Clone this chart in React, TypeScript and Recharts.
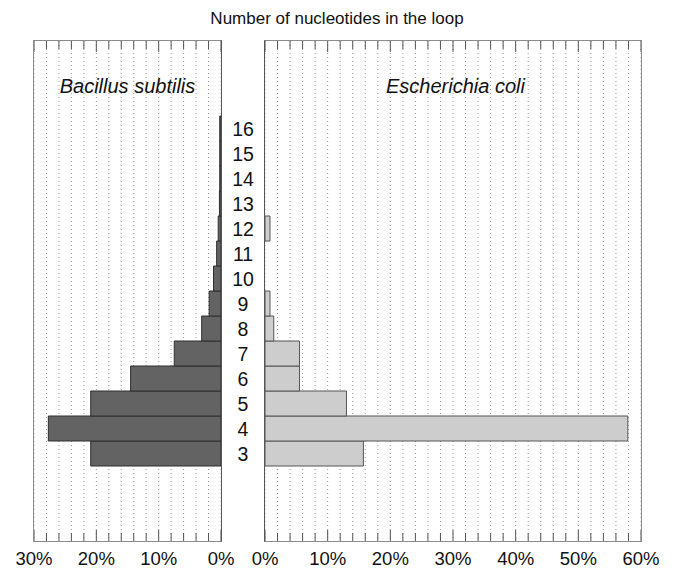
import React from 'react';
import { BarChart, Bar, XAxis, YAxis, CartesianGrid } from 'recharts';

// loop sizes on the category axis (outer ones are empty padding rows)
const LOOP_SIZES = [0, 1, 2, 3, 4, 5, 6, 7, 8, 9, 10, 11, 12, 13, 14, 15, 16, 17, 18, 19];
const LABELED_SIZES = [3, 4, 5, 6, 7, 8, 9, 10, 11, 12, 13, 14, 15, 16];

// percent of loops with a given size
const BACILLUS = [null, null, null, 20.9, 27.7, 20.9, 14.5, 7.5, 3.1, 1.9, 1.2, 0.7, 0.45, 0.25, 0.2, 0.2, 0.2, null, null, null];
const ECOLI = [null, null, null, 15.7, 57.9, 13, 5.5, 5.5, 1.4, 0.8, 0, 0, 0.8, 0, 0, 0, 0, null, null, null];

const LEFT_TICKS = [0, 2, 4, 6, 8, 10, 12, 14, 16, 18, 20, 22, 24, 26, 28, 30];
const RIGHT_TICKS = [0, 2, 4, 6, 8, 10, 12, 14, 16, 18, 20, 22, 24, 26, 28, 30, 32, 34, 36, 38, 40, 42, 44, 46, 48, 50, 52, 54, 56, 58, 60];

const FONT = '"Liberation Sans", Arial, Helvetica, sans-serif';
const W = 674;
const H = 568;
const TOP = 41;
const AXIS_H = 27;
const BOTTOM = H - AXIS_H;

const bacData = LOOP_SIZES.map((n, i) => ({ n, v: BACILLUS[i] }));
const ecoData = LOOP_SIZES.map((n, i) => ({ n, v: ECOLI[i] }));

// tick marks drawn inward on top and bottom edges, label only on 10% steps
const XTick = (props: any) => {
  const { x, payload } = props;
  const v = payload.value;
  const major = v % 10 === 0;
  const len = major ? 11 : 8;
  return (
    <g>
      <line x1={x} x2={x} y1={BOTTOM} y2={BOTTOM - len} stroke="#555" strokeWidth={1} />
      <line x1={x} x2={x} y1={TOP} y2={TOP + len} stroke="#555" strokeWidth={1} />
      {major && (
        <text x={x} y={BOTTOM + 24} textAnchor="middle" fontSize={18.5} fill="#111" fontFamily={FONT}>
          {v}%
        </text>
      )}
    </g>
  );
};

const SizeTick = (props: any) => {
  const { y, payload } = props;
  if (!LABELED_SIZES.includes(payload.value)) return null;
  return (
    <text x={22} y={y} dy={7} textAnchor="middle" fontSize={19.5} fill="#111" fontFamily={FONT}>
      {payload.value}
    </text>
  );
};

const Panel = ({ data, width, left, margin, max, ticks, reversed, fill, stroke, withLabels }: any) => (
  <div style={{ position: 'absolute', left, top: 0 }}>
    <BarChart
      width={width}
      height={H}
      data={data}
      layout="vertical"
      margin={margin}
      barCategoryGap={0}
    >
      <CartesianGrid horizontal={false} stroke="#9a9a9a" strokeDasharray="1 3" />
      <XAxis
        type="number"
        domain={[0, max]}
        ticks={ticks}
        interval={0}
        reversed={reversed}
        height={AXIS_H}
        tickSize={0}
        tickLine={false}
        tick={(p: any) => <XTick {...p} />}
        axisLine={false}
      />
      <YAxis
        type="category"
        dataKey="n"
        reversed
        interval={0}
        width={withLabels ? 44 : 0}
        tickSize={0}
        tickLine={false}
        tick={withLabels ? (p: any) => <SizeTick {...p} /> : false}
        axisLine={false}
      />
      <Bar dataKey="v" fill={fill} stroke={stroke} strokeWidth={1} isAnimationActive={false} />
    </BarChart>
  </div>
);

// panel frames: light outer edges, darker 0% edge
const frame = (left: number, width: number, zeroSide: 'left' | 'right'): React.CSSProperties => ({
  position: 'absolute',
  left,
  top: TOP - 1,
  width,
  height: BOTTOM - TOP + 2,
  boxSizing: 'border-box',
  border: '1px solid #8c8c8c',
  [zeroSide === 'left' ? 'borderLeft' : 'borderRight']: '1px solid #555',
  pointerEvents: 'none',
});

export default function App() {
  return (
    <div style={{ position: 'absolute', left: 0, top: 0, width: W, height: H, background: '#fff', fontFamily: FONT }}>
      <div style={{ position: 'absolute', left: 0, width: W, top: 9, textAlign: 'center', fontSize: 17, color: '#111' }}>
        Number of nucleotides in the loop
      </div>
      <Panel
        data={bacData}
        width={240}
        left={0}
        margin={{ top: TOP, right: 19, bottom: 0, left: 34 }}
        max={30}
        ticks={LEFT_TICKS}
        reversed
        fill="#636363"
        stroke="#2e2e2e"
        withLabels={false}
      />
      <Panel
        data={ecoData}
        width={453}
        left={221}
        margin={{ top: TOP, right: 33, bottom: 0, left: 0 }}
        max={60}
        ticks={RIGHT_TICKS}
        reversed={false}
        fill="#cdcdcd"
        stroke="#555"
        withLabels
      />
      <div style={frame(33, 189, 'right')} />
      <div style={frame(264, 378, 'left')} />
      <div style={{ position: 'absolute', left: 34, width: 187, top: 75, textAlign: 'center', fontSize: 20, fontStyle: 'italic', color: '#111' }}>
        Bacillus subtilis
      </div>
      <div style={{ position: 'absolute', left: 268, width: 375, top: 75, textAlign: 'center', fontSize: 20, fontStyle: 'italic', color: '#111' }}>
        Escherichia coli
      </div>
    </div>
  );
}
